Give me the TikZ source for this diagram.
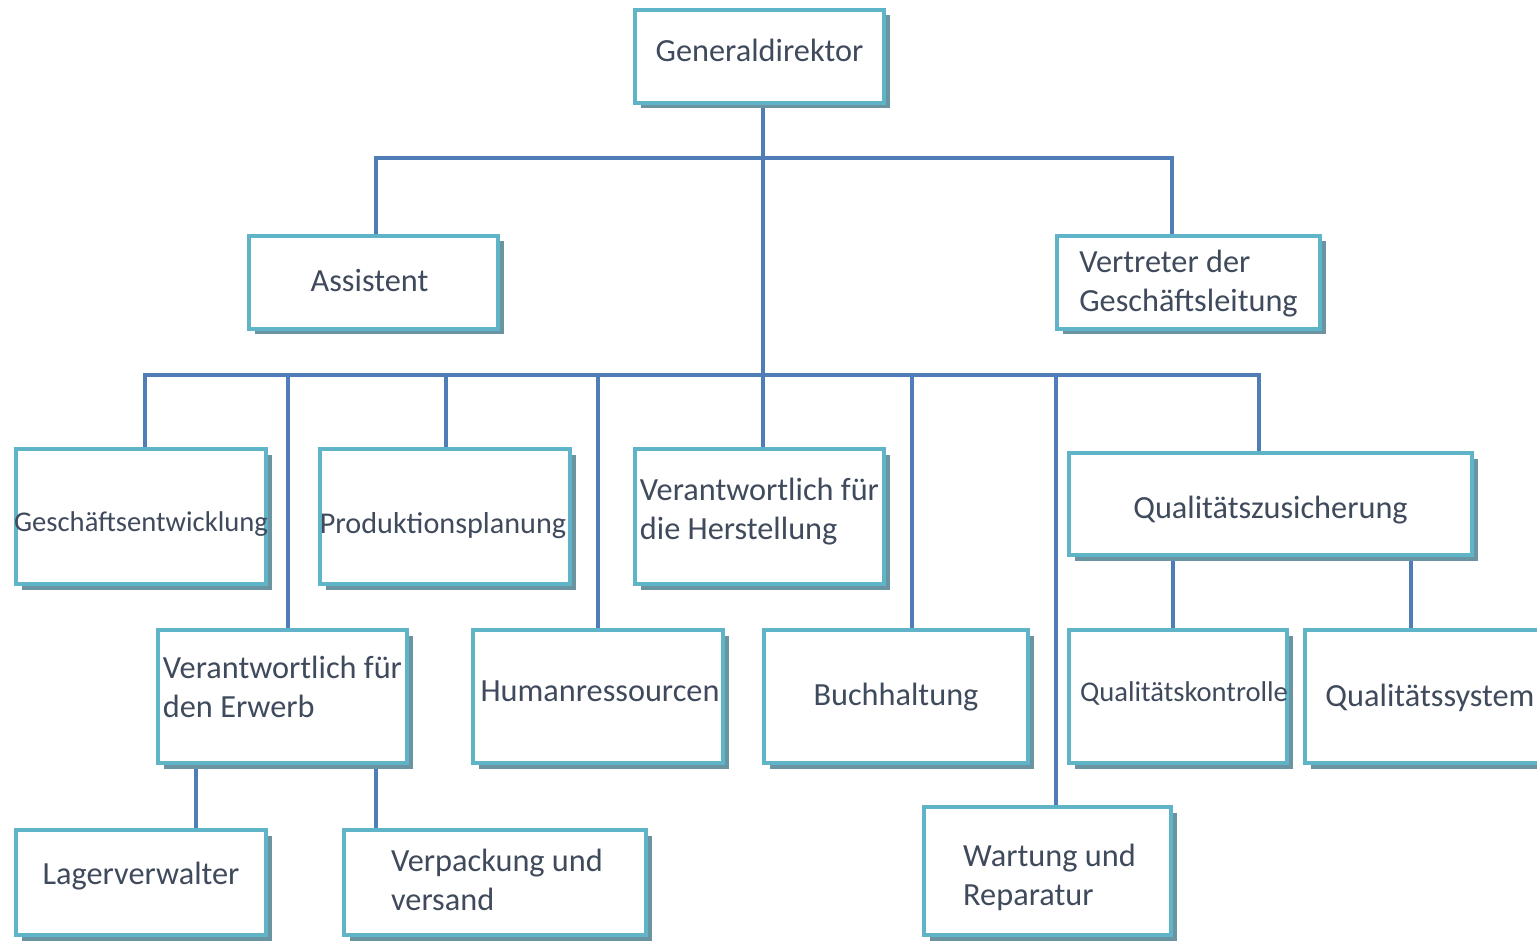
\documentclass[tikz,border=0pt]{standalone}
\usepackage{fontspec}
\setmainfont{Carlito}
\usetikzlibrary{shadows,backgrounds}
\definecolor{bordc}{HTML}{60B4C7}
\definecolor{shadc}{HTML}{6A94A2}
\definecolor{linec}{HTML}{4E7DB8}
\definecolor{txtc}{HTML}{3F4A5C}
\tikzset{
  box/.style={draw=bordc, line width=4pt, fill=white, inner sep=0pt,
    general shadow={fill=shadc, shadow xshift=5.5pt, shadow yshift=-5.5pt}},
  txt/.style={inner sep=0pt, align=left, text=txtc, font=\fontsize{32.3}{39}\selectfont},
  stxt/.style={txt, font=\fontsize{28.6}{34}\selectfont},
  mtxt/.style={txt, font=\fontsize{30.2}{36}\selectfont},
  conn/.style={draw=linec, line width=4pt},
}
\begin{document}
\begin{tikzpicture}[x=1pt,y=-1pt]
\clip (0,0) rectangle (1537,941);
% boxes
\node[box, minimum width=249pt, minimum height=93pt] (gd) at (759.5,56.5) {};
\node[box, minimum width=249pt, minimum height=93pt] (as) at (373.5,282.5) {};
\node[box, minimum width=263pt, minimum height=93pt] (vt) at (1188.5,282.5) {};
\node[box, minimum width=250pt, minimum height=135pt] (ge) at (141,516.5) {};
\node[box, minimum width=250pt, minimum height=135pt] (pp) at (445,516.5) {};
\node[box, minimum width=249pt, minimum height=135pt] (vh) at (759.5,516.5) {};
\node[box, minimum width=403pt, minimum height=102pt] (qz) at (1270.5,504) {};
\node[box, minimum width=249pt, minimum height=133pt] (ve) at (282.5,696.5) {};
\node[box, minimum width=250pt, minimum height=133pt] (hr) at (598,696.5) {};
\node[box, minimum width=264pt, minimum height=133pt] (bu) at (896,696.5) {};
\node[box, minimum width=218pt, minimum height=133pt] (qk) at (1178,696.5) {};
\node[box, minimum width=250pt, minimum height=133pt] (qs) at (1430,696.5) {};
\node[box, minimum width=250pt, minimum height=105pt] (lv) at (141,882.5) {};
\node[box, minimum width=302pt, minimum height=105pt] (vv) at (495,882.5) {};
\node[box, minimum width=247pt, minimum height=128pt] (wr) at (1047.5,871) {};
% texts
\node[txt] (gdT) at ([yshift=6pt]gd.center) {Generaldirektor};
\node[txt] (asT) at ([yshift=2pt,xshift=-4pt]as.center) {Assistent};
\node[txt] (vtT) at ([yshift=-1pt]vt.center) {Vertreter der\\Geschäftsleitung};
\node[stxt] (geT) at ([yshift=-8pt]ge.center) {Geschäftsentwicklung};
\node[mtxt] (ppT) at ([yshift=-9pt,xshift=-2pt]pp.center) {Produktionsplanung};
\node[txt] (vhT) at ([yshift=5pt]vh.center) {Verantwortlich für\\die Herstellung};
\node[txt] (qzT) at ([yshift=-6pt]qz.center) {Qualitätszusicherung};
\node[txt] (veT) at ([yshift=10pt]ve.center) {Verantwortlich für\\den Erwerb};
\node[txt] (hrT) at ([yshift=5pt,xshift=2pt]hr.center) {Humanressourcen};
\node[txt] (buT) at ([yshift=-1pt]bu.center) {Buchhaltung};
\node[stxt] (qkT) at ([yshift=3pt,xshift=6pt]qk.center) {Qualitätskontrolle};
\node[txt] (qsT) at ([yshift=-1pt]qs.center) {Qualitätssystem};
\node[txt] (lvT) at ([yshift=6pt]lv.center) {Lagerverwalter};
\node[txt] (vvT) at ([yshift=3pt,xshift=2pt]vv.center) {Verpackung und\\versand};
\node[txt] (wrT) at ([yshift=-6pt,xshift=2pt]wr.center) {Wartung und\\Reparatur};
% junctions
\coordinate (j1) at (763,158);
\coordinate (j2) at (763,375);
\coordinate (xa) at (376,0);
\coordinate (xv) at (1172,0);
\coordinate (b1) at (145,375);
\coordinate (b2) at (288,375);
\coordinate (b3) at (446,375);
\coordinate (b4) at (598,375);
\coordinate (b5) at (912,375);
\coordinate (b6) at (1056,375);
\coordinate (b7) at (1259,375);
\coordinate (e1) at (196,0);
\coordinate (e2) at (376,0);
\coordinate (q1) at (1173,0);
\coordinate (q2) at (1411,0);
\begin{pgfonlayer}{background}
\fill[white] (0,0) rectangle (1537,941);
\draw[conn] (j2 |- gd.south) -- (j2) -- (j2 |- vh.north);
\draw[conn] (as.north -| xa) |- (j1) -| (vt.north -| xv);
\draw[conn] (b1 |- ge.north) -- (b1) -- (b7) -- (b7 |- qz.north);
\draw[conn] (b2) -- (b2 |- ve.north);
\draw[conn] (b3) -- (b3 |- pp.north);
\draw[conn] (b4) -- (b4 |- hr.north);
\draw[conn] (b5) -- (b5 |- bu.north);
\draw[conn] (b6) -- (b6 |- wr.north);
\draw[conn] (ve.south -| e1) -- (lv.north -| e1);
\draw[conn] (ve.south -| e2) -- (vv.north -| e2);
\draw[conn] (qz.south -| q1) -- (qk.north -| q1);
\draw[conn] (qz.south -| q2) -- (qs.north -| q2);
\end{pgfonlayer}
\end{tikzpicture}
\end{document}
